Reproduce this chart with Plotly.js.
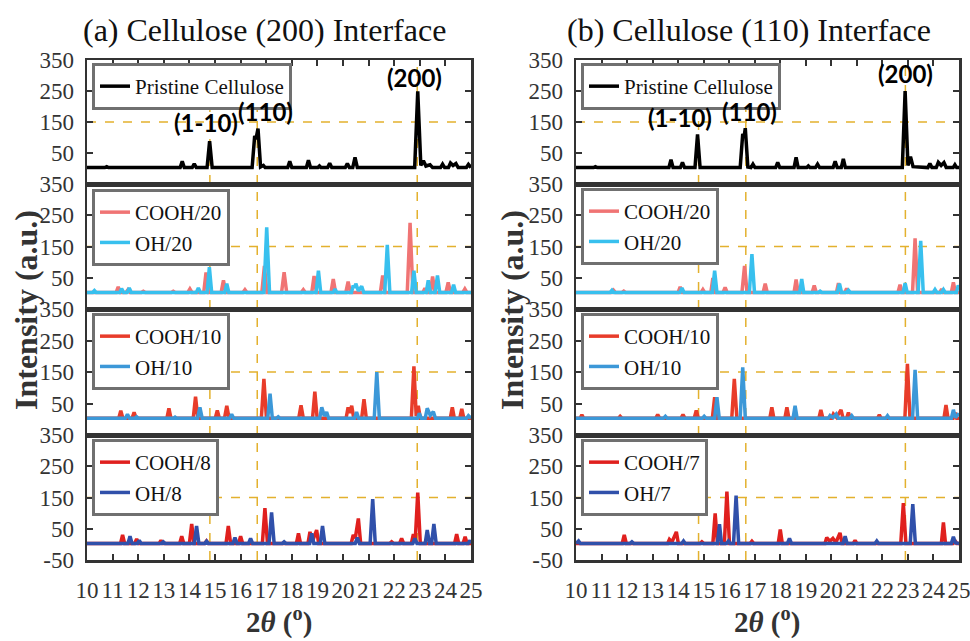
<!DOCTYPE html>
<html><head><meta charset="utf-8">
<script src="https://cdn.plot.ly/plotly-3.0.1.min.js"></script>
<style>html,body{margin:0;padding:0;background:#fff}#chart{width:970px;height:641px}</style>
</head><body><div id="chart"></div>
<script>
// ---------- DATA ----------
const xTicks = [10,11,12,13,14,15,16,17,18,19,20,21,22,23,24,25];
const yTicksInner = [50,150,250,350];
const yTicksBottom = [-50,50,150,250,350];
const refX = [14.8, 16.65, 22.9];
const refY = 150;
const panelTitles = ["(a) Cellulose (200) Interface", "(b) Cellulose (110) Interface"];
const peakLabelsA = [["(1-10)",14.65,148],["(110)",16.98,183],["(200)",22.81,292]];
const peakLabelsB = [["(1-10)",14.08,163],["(110)",16.81,183],["(200)",22.92,308]];

// Left column (200 interface)
const pristineA = [[10,3],[10.7,3],[10.77,6],[10.84,3],[11.28,3],[11.35,4],[11.42,3],[13.64,3],[13.72,23],[13.8,3],[14.11,3],[14.19,15],[14.27,3],[14.69,3],[14.79,88],[14.89,3],[15.2,3],[15.26,5],[15.32,3],[16.45,3],[16.55,105],[16.6,95],[16.68,129],[16.78,5],[16.89,10],[16.96,3],[17.28,3],[17.34,4],[17.4,3],[17.84,3],[17.92,23],[18.0,3],[18.57,3],[18.65,27],[18.73,3],[19.02,3],[19.08,8],[19.14,3],[19.4,3],[19.48,17],[19.56,3],[20.09,3],[20.17,16],[20.25,3],[20.38,3],[20.47,36],[20.56,3],[21.12,3],[21.18,4],[21.24,3],[21.9,3],[21.97,4],[22.04,3],[22.8,3],[22.92,249],[23.04,10],[23.14,25],[23.24,8],[23.4,12],[23.5,3],[23.81,3],[23.89,14],[23.97,3],[24.12,3],[24.2,18],[24.3,10],[24.41,16],[24.5,3],[24.82,3],[24.9,13],[24.98,3],[25,3]];
const cooh20A = [[10,3],[11.14,3],[11.22,21],[11.3,3],[11.52,3],[11.6,12],[11.68,3],[12.12,3],[12.2,7],[12.28,3],[13.29,3],[13.37,7],[13.45,3],[13.94,3],[14.02,14],[14.1,3],[14.56,3],[14.65,67],[14.74,3],[15.24,3],[15.33,42],[15.42,3],[16.09,3],[16.17,12],[16.25,3],[16.83,3],[16.93,88],[17.03,3],[17.6,3],[17.7,68],[17.8,3],[18.37,3],[18.45,12],[18.53,3],[18.78,3],[18.87,56],[18.96,3],[19.53,3],[19.62,46],[19.71,3],[20.11,3],[20.2,38],[20.29,3],[21.46,3],[21.55,57],[21.64,3],[22.51,3],[22.62,226],[22.73,3],[23.12,3],[23.2,16],[23.28,3],[23.41,3],[23.5,54],[23.59,3],[24.02,3],[24.11,35],[24.2,3],[24.68,3],[24.76,14],[24.84,3],[25,3]];
const oh20A = [[10,3],[10.22,3],[10.29,9],[10.36,3],[11.28,3],[11.35,15],[11.43,3],[11.57,3],[11.65,17],[11.73,3],[14.27,3],[14.35,17],[14.43,3],[14.69,3],[14.78,84],[14.87,3],[15.38,3],[15.46,31],[15.54,3],[16.91,3],[17.02,211],[17.13,3],[18.95,3],[19.04,73],[19.13,3],[19.62,3],[19.69,14],[19.76,3],[20.33,3],[20.4,25],[20.45,18],[20.5,31],[20.6,8],[20.73,23],[20.81,3],[21.63,3],[21.73,155],[21.83,3],[22.68,3],[22.77,73],[22.86,3],[23.25,3],[23.33,42],[23.41,3],[23.6,3],[23.69,57],[23.78,3],[24.24,3],[24.32,28],[24.4,3],[25,3]];
const cooh10A = [[10,3],[11.24,3],[11.32,27],[11.4,3],[11.76,3],[11.84,22],[11.92,3],[13.12,3],[13.2,35],[13.28,3],[14.15,3],[14.24,72],[14.33,3],[15.01,3],[15.09,28],[15.17,3],[15.37,3],[15.46,43],[15.55,3],[16.81,3],[16.91,128],[17.01,3],[18.27,3],[18.36,44],[18.45,3],[18.81,3],[18.9,88],[18.99,3],[20.12,3],[20.2,38],[20.27,20],[20.34,43],[20.42,3],[20.73,3],[20.82,64],[20.91,3],[22.67,3],[22.77,168],[22.86,10],[22.94,43],[23.02,3],[24.19,3],[24.27,38],[24.35,3],[24.56,3],[24.64,33],[24.72,3],[25,3]];
const oh10A = [[10,3],[11.5,3],[11.58,16],[11.66,3],[11.87,3],[11.94,8],[12.01,3],[13.37,3],[13.44,7],[13.51,3],[14.32,3],[14.41,38],[14.5,3],[15.57,3],[15.65,16],[15.73,3],[17.06,3],[17.15,81],[17.24,3],[17.4,3],[17.47,8],[17.54,3],[19.09,3],[19.17,38],[19.27,10],[19.36,23],[19.44,3],[20.45,3],[20.53,23],[20.61,3],[21.22,3],[21.32,150],[21.42,3],[22.91,3],[22.98,19],[23.06,3],[23.21,3],[23.29,35],[23.41,12],[23.53,24],[23.61,3],[24.83,3],[24.9,11],[25,3]];
const cooh8A = [[10,3],[11.31,3],[11.39,30],[11.47,3],[11.86,3],[11.94,17],[12.02,3],[12.82,3],[12.89,13],[12.96,3],[13.62,3],[13.7,26],[13.78,3],[14.0,3],[14.09,65],[14.18,3],[14.6,3],[14.67,11],[14.74,3],[15.43,3],[15.52,59],[15.61,3],[15.92,3],[16.0,26],[16.08,3],[16.85,3],[16.95,116],[17.05,3],[18.18,3],[18.26,35],[18.34,3],[18.63,3],[18.71,40],[18.8,8],[18.97,46],[19.05,3],[20.32,3],[20.4,30],[20.48,20],[20.6,83],[20.69,3],[21.83,3],[21.9,8],[21.97,3],[22.21,3],[22.29,19],[22.37,3],[22.67,3],[22.75,33],[22.82,10],[22.92,166],[23.02,3],[24.36,3],[24.44,33],[24.52,3],[24.69,3],[24.77,24],[24.85,3],[25,3]];
const oh8A = [[10,3],[11.6,3],[11.68,26],[11.76,3],[11.97,3],[12.04,13],[12.11,3],[12.91,3],[12.98,8],[13.05,3],[14.19,3],[14.28,59],[14.37,3],[14.6,3],[14.67,10],[14.74,3],[15.7,3],[15.78,22],[15.86,3],[16.31,3],[16.39,19],[16.47,3],[17.11,3],[17.21,102],[17.31,3],[17.63,3],[17.7,8],[17.77,3],[18.7,3],[18.78,35],[18.86,3],[19.11,3],[19.2,59],[19.29,3],[20.48,3],[20.56,22],[20.64,3],[21.06,3],[21.16,145],[21.26,3],[22.73,3],[22.81,19],[22.89,3],[23.21,3],[23.29,46],[23.38,3],[23.46,3],[23.55,65],[23.64,3],[24.89,3],[24.96,13],[25,3]];

// Right column (110 interface)
const pristineB = [[10,3],[10.69,3],[10.76,6],[10.83,3],[11.27,3],[11.34,4],[11.41,3],[13.64,3],[13.72,28],[13.8,3],[14.09,3],[14.17,20],[14.25,3],[14.66,3],[14.76,110],[14.86,3],[15.2,3],[15.26,5],[15.32,3],[16.43,3],[16.53,112],[16.58,100],[16.63,130],[16.73,5],[16.85,3],[16.93,14],[17.01,3],[17.82,3],[17.9,20],[17.98,3],[18.54,3],[18.62,36],[18.7,3],[19.04,3],[19.1,8],[19.16,3],[19.38,3],[19.46,14],[19.54,3],[20.07,3],[20.15,23],[20.23,3],[20.39,3],[20.47,31],[20.55,3],[21.84,3],[21.9,4],[21.96,3],[22.78,3],[22.89,250],[23.0,10],[23.1,38],[23.2,6],[23.78,3],[23.86,16],[23.94,3],[24.11,3],[24.19,20],[24.3,10],[24.41,19],[24.5,3],[24.77,3],[24.84,12],[24.91,3],[25,3]];
const cooh20B = [[10,3],[11.4,3],[11.47,10],[11.54,3],[11.8,3],[11.87,7],[11.94,3],[14.0,3],[14.08,21],[14.16,3],[14.9,3],[14.97,12],[15.04,3],[15.28,3],[15.36,49],[15.44,3],[15.76,3],[15.84,19],[15.92,3],[16.5,3],[16.6,88],[16.7,3],[17.33,3],[17.41,31],[17.49,3],[18.54,3],[18.62,44],[18.7,3],[19.25,3],[19.33,25],[19.41,3],[20.2,3],[20.28,33],[20.36,3],[20.53,3],[20.6,16],[20.67,3],[22.61,3],[22.69,28],[22.77,3],[23.18,3],[23.28,176],[23.38,3],[24.25,3],[24.32,14],[24.39,3],[24.7,3],[24.78,35],[24.86,3],[25,3]];
const oh20B = [[10,3],[11.34,3],[11.41,10],[11.48,3],[14.07,3],[14.15,17],[14.23,3],[15.34,3],[15.43,73],[15.52,3],[16.79,3],[16.89,126],[16.99,3],[18.76,3],[18.84,46],[18.92,3],[19.49,3],[19.56,7],[19.63,3],[20.24,3],[20.32,31],[20.4,3],[20.6,3],[20.67,10],[20.74,3],[22.81,3],[22.89,33],[22.97,3],[23.4,3],[23.5,168],[23.6,3],[23.99,3],[24.06,12],[24.13,3],[24.32,3],[24.39,12],[24.46,3],[24.9,3],[24.97,25],[25,20]];
const cooh10B = [[10,3],[10.16,3],[10.23,14],[10.3,3],[11.66,3],[11.73,9],[11.8,3],[13.12,3],[13.2,15],[13.28,3],[14.11,3],[14.19,15],[14.27,3],[14.63,3],[14.71,28],[14.79,3],[15.34,3],[15.43,70],[15.52,3],[16.1,3],[16.2,128],[16.3,3],[17.59,3],[17.67,38],[17.75,3],[18.18,3],[18.26,38],[18.34,3],[19.51,3],[19.59,30],[19.67,3],[20.01,3],[20.08,17],[20.2,6],[20.38,30],[20.46,3],[20.6,3],[20.67,21],[20.74,3],[21.81,3],[21.88,14],[21.95,3],[22.88,3],[22.98,176],[23.08,3],[24.41,3],[24.49,45],[24.57,3],[24.77,3],[24.84,21],[24.91,3],[25,3]];
const oh10B = [[10,3],[13.43,3],[13.5,9],[13.57,3],[14.95,3],[15.02,9],[15.09,3],[15.43,3],[15.52,70],[15.61,3],[16.43,3],[16.53,165],[16.63,3],[18.5,3],[18.58,43],[18.66,3],[19.88,3],[19.95,12],[20.07,5],[20.19,16],[20.27,3],[20.73,3],[20.8,11],[20.87,3],[22.13,3],[22.2,11],[22.27,3],[23.18,3],[23.28,157],[23.38,3],[24.7,3],[24.78,30],[24.86,5],[25,19]];
const cooh7B = [[10,3],[11.81,3],[11.89,30],[11.97,3],[13.59,3],[13.66,16],[13.76,8],[13.93,40],[14.01,3],[14.86,3],[14.93,8],[15.0,3],[15.36,3],[15.45,99],[15.54,3],[15.81,3],[15.91,169],[16.01,3],[16.82,3],[16.89,10],[16.96,3],[17.92,3],[18.0,48],[18.08,3],[19.75,3],[19.82,22],[19.94,10],[20.06,19],[20.18,6],[20.34,37],[20.42,3],[20.86,3],[20.93,13],[21.0,3],[22.72,3],[22.82,132],[22.92,3],[24.31,3],[24.39,70],[24.47,3],[24.77,3],[24.84,13],[24.91,3],[25,3]];
const oh7B = [[10,3],[10.1,11],[10.17,3],[12.12,3],[12.19,8],[12.26,3],[14.14,3],[14.21,11],[14.28,3],[15.54,3],[15.62,65],[15.7,3],[15.9,3],[15.97,11],[16.04,3],[16.17,3],[16.27,156],[16.37,3],[18.28,3],[18.36,19],[18.44,3],[20.46,3],[20.54,26],[20.62,3],[21.71,3],[21.78,11],[21.85,3],[23.09,3],[23.19,129],[23.29,3],[24.7,3],[24.78,24],[24.86,5],[25,3]];

const seriesA = [
  {name:"Pristine Cellulose", data:pristineA, color:"#000000"},
  {name:"COOH/20", data:cooh20A, color:"#F07474"},
  {name:"OH/20", data:oh20A, color:"#38C0EE"},
  {name:"COOH/10", data:cooh10A, color:"#E83C2A"},
  {name:"OH/10", data:oh10A, color:"#3C98D8"},
  {name:"COOH/8", data:cooh8A, color:"#E0201E"},
  {name:"OH/8", data:oh8A, color:"#3050AA"}
];
const seriesB = [
  {name:"Pristine Cellulose", data:pristineB, color:"#000000"},
  {name:"COOH/20", data:cooh20B, color:"#F07474"},
  {name:"OH/20", data:oh20B, color:"#38C0EE"},
  {name:"COOH/10", data:cooh10B, color:"#E83C2A"},
  {name:"OH/10", data:oh10B, color:"#3C98D8"},
  {name:"COOH/7", data:cooh7B, color:"#E0201E"},
  {name:"OH/7", data:oh7B, color:"#3050AA"}
];
const panelOf = [0,1,1,2,2,3,3];

// ---------- LAYOUT ----------
const W = 970, H = 641;
const colDom = [[87/W, 471/W], [576/W, 959/W]];
const rowPx = [[60,184],[184,309],[309,435],[435,560]];
const rowDom = rowPx.map(r => [1 - r[1]/H, 1 - r[0]/H]);
const legTopPx = [[63,189,313,439],[63,188,313,439]];
const legLeftPx = [92, 581];
const serif = "Liberation Serif";
const axisCol = "#333333";
const gold = "#E3B12E";

const traces = [];
const layout = {
  width: W, height: H,
  margin: {l:0, r:0, t:0, b:0, pad:0},
  paper_bgcolor: "#fff", plot_bgcolor: "#fff",
  showlegend: true,
  font: {family: serif},
  shapes: [], annotations: []
};

[seriesA, seriesB].forEach((ser, c) => {
  ser.forEach((s, i) => {
    const n = c*4 + panelOf[i] + 1;
    traces.push({
      type: "scatter", mode: "lines",
      x: s.data.map(p => p[0]), y: s.data.map(p => p[1]),
      name: s.name, line: {color: s.color, width: 3.5},
      xaxis: "x" + n, yaxis: "y" + n,
      legend: n === 1 ? "legend" : "legend" + n,
      hoverinfo: "skip"
    });
  });
  for (let p = 0; p < 4; p++) {
    const n = c*4 + p + 1;
    const xk = n === 1 ? "xaxis" : "xaxis" + n;
    const yk = n === 1 ? "yaxis" : "yaxis" + n;
    layout[xk] = {
      domain: colDom[c], range: [10, 25], anchor: "y" + n,
      showline: true, mirror: true, linecolor: axisCol, linewidth: 2.5,
      showgrid: false, zeroline: false,
      ticks: (p === 0 || p === 3) ? "inside" : "", side: p === 0 ? "top" : "bottom",
      tickvals: xTicks, ticktext: xTicks.map(String),
      showticklabels: p === 3, ticklen: 6, tickwidth: 2, tickcolor: axisCol,
      ticklabelstandoff: 8, ticklabeloverflow: "allow",
      tickfont: {family: serif, size: 23, color: "#333"}
    };
    const yt = p === 3 ? yTicksBottom : yTicksInner;
    layout[yk] = {
      domain: rowDom[p], range: [-50, 350], anchor: "x" + n,
      showline: true, mirror: "ticks", linecolor: axisCol, linewidth: 2.5,
      showgrid: false, zeroline: false,
      ticks: "inside", tickvals: yt, ticktext: yt.map(String),
      ticklen: 6, tickwidth: 2, tickcolor: axisCol,
      ticklabelstandoff: 6,
      tickfont: {family: serif, size: 23, color: "#333"}
    };
    layout.shapes.push({type:"line", xref:"x"+n, yref:"y"+n, x0:10, x1:25, y0:refY, y1:refY,
      line:{color:gold, width:1.5, dash:"dash"}, layer:"below"});
    refX.forEach(v => layout.shapes.push({type:"line", xref:"x"+n, yref:"y"+n, x0:v, x1:v, y0:-50, y1:350,
      line:{color:gold, width:1.5, dash:"dash"}, layer:"below"}));
    const lk = n === 1 ? "legend" : "legend" + n;
    layout[lk] = {
      x: legLeftPx[c]/W, y: 1 - legTopPx[c][p]/H, xanchor: "left", yanchor: "top",
      bgcolor: "#fff", bordercolor: "#707070", borderwidth: 3,
      font: {family: serif, size: 21, color: "#111"},
      itemwidth: 30, tracegroupgap: 0, orientation: "v"
    };
  }
  layout.annotations.push({text: panelTitles[c], xref:"paper", yref:"paper",
    x: c === 0 ? 264/W : 749/W, y: 1 - 30/H, xanchor:"center", yanchor:"middle", showarrow:false,
    font:{family: serif, size: 32, color:"#111"}});
  layout.annotations.push({text: "<b>Intensity (a.u.)</b>", xref:"paper", yref:"paper",
    x: c === 0 ? 26/W : 512/W, y: 1 - 310/H, xanchor:"center", yanchor:"middle", textangle:-90, showarrow:false,
    font:{family: serif, size: 32, color:"#333"}});
  layout.annotations.push({text: "<b>2<i>θ</i> (<sup>o</sup>)</b>", xref:"paper", yref:"paper",
    x: c === 0 ? 279/W : 767/W, y: 0, xanchor:"center", yanchor:"bottom", showarrow:false,
    font:{family: serif, size: 29, color:"#333"}});
  const n1 = c*4 + 1;
  (c === 0 ? peakLabelsA : peakLabelsB).forEach(l => layout.annotations.push({
    text: "<b>" + l[0] + "</b>", xref:"x"+n1, yref:"y"+n1, x:l[1], y:l[2],
    xanchor:"center", yanchor:"middle", showarrow:false,
    font:{family:"Lato", size:24, color:"#000"}}));
});

Plotly.newPlot("chart", traces, layout, {displayModeBar:false, staticPlot:true});
</script>
</body></html>
